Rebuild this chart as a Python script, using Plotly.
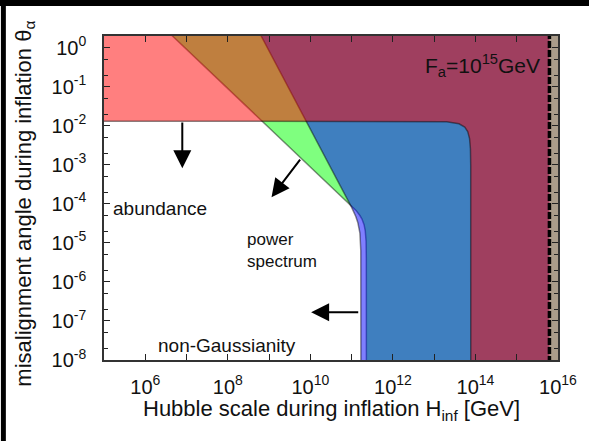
import plotly.graph_objects as go

# ---- data (H_inf in GeV, theta_a) ----
# power-spectrum (isocurvature) bound
power_H = [3.04e6, 1e8, 1e10, 3.16e10, 6.31e10, 1e11, 1.26e11, 1.585e11, 1.78e11, 2.0e11, 2.14e11, 2.24e11, 2.27e11, 2.28e11]
power_theta = [3, 0.0912, 9.12e-4, 2.88e-4, 1.44e-4, 8.95e-5, 6.9e-5, 5.03e-5, 4.07e-5, 2.94e-5, 2.03e-5, 1.09e-5, 4e-6, 1e-9]
# non-Gaussianity bound
ng_H = [5.25e8, 1e9, 1e10, 3.16e10, 6.31e10, 1e11, 1.26e11, 1.41e11, 1.585e11, 1.64e11, 1.667e11, 1.68e11]
ng_theta = [3, 0.832, 8.32e-3, 8.32e-4, 2.09e-4, 8.13e-5, 4.76e-5, 3.35e-5, 1.8e-5, 1.13e-5, 6.3e-6, 1e-9]
# abundance bound
abund_H = [1e4, 2e13, 4e13, 5.5e13, 6.5e13, 7.2e13, 7.55e13, 7.68e13, 7.7e13]
abund_theta = [0.0132, 0.01275, 0.01128, 0.00924, 0.00708, 0.00468, 0.00259, 0.00095, 1e-9]
# symmetry restoration H_inf = 2 pi F_a
restore_H = 6.2e15

x_major = [1e6, 1e8, 1e10, 1e12, 1e14, 1e16]
x_major_text = ["10<sup>6</sup>", "10<sup>8</sup>", "10<sup>10</sup>", "10<sup>12</sup>", "10<sup>14</sup>", "10<sup>16</sup>"]
x_minor = [1e5, 1e7, 1e9, 1e11, 1e13, 1e15]
y_major = [1e-8, 1e-7, 1e-6, 1e-5, 1e-4, 1e-3, 1e-2, 1e-1, 1e0]
y_major_text = ["10<sup>-8</sup>", "10<sup>-7</sup>", "10<sup>-6</sup>", "10<sup>-5</sup>", "10<sup>-4</sup>",
                "10<sup>-3</sup>", "10<sup>-2</sup>", "10<sup>-1</sup>", "10<sup>0</sup>"]
y_minor = [m * 10.0 ** e for e in range(-8, 1) for m in (2, 5)]

FAR_H = 1e17
LOW_T = 1e-9
HIGH_T = 3

FONT = "Liberation Sans, Arial, Helvetica, sans-serif"
EDGE = "rgba(0,0,0,0.45)"

fig = go.Figure()

fig.add_trace(go.Scatter(
    x=power_H + [FAR_H, FAR_H], y=power_theta + [LOW_T, HIGH_T],
    fill="toself", fillcolor="rgba(0,255,0,0.5)", mode="lines",
    line=dict(color=EDGE, width=1.5), hoverinfo="skip", showlegend=False))
fig.add_trace(go.Scatter(
    x=ng_H + [FAR_H, FAR_H], y=ng_theta + [LOW_T, HIGH_T],
    fill="toself", fillcolor="rgba(0,0,255,0.5)", mode="lines",
    line=dict(color=EDGE, width=1.5), hoverinfo="skip", showlegend=False))
fig.add_trace(go.Scatter(
    x=abund_H + [FAR_H, FAR_H, abund_H[0]], y=abund_theta + [LOW_T, HIGH_T, HIGH_T],
    fill="toself", fillcolor="rgba(255,0,0,0.5)", mode="lines",
    line=dict(color=EDGE, width=1.5), hoverinfo="skip", showlegend=False))
fig.add_trace(go.Scatter(
    x=[restore_H, FAR_H, FAR_H, restore_H], y=[LOW_T, LOW_T, HIGH_T, HIGH_T],
    fill="toself", fillcolor="#aa9c8a", mode="lines",
    line=dict(color="rgba(0,0,0,0)", width=0), hoverinfo="skip", showlegend=False))
fig.add_trace(go.Scatter(
    x=[restore_H, restore_H], y=[LOW_T, HIGH_T], mode="lines",
    line=dict(color="black", width=3.5, dash="7px,2px"), hoverinfo="skip", showlegend=False))

axis_common = dict(
    type="log", showgrid=False, zeroline=False, showline=True, linecolor="#333",
    linewidth=1.5, mirror="ticks", ticks="inside", ticklen=6, tickwidth=1.2, tickcolor="#222",
    tickfont=dict(family=FONT, size=20, color="#111"),
)

fig.update_xaxes(range=[5, 16], tickvals=x_major, ticktext=x_major_text,
                 minor=dict(tickvals=x_minor, ticks="inside", ticklen=6, tickwidth=1.2, tickcolor="#222"),
                 ticklabelstandoff=8, **axis_common)
fig.update_yaxes(range=[-8, 0.3], tickvals=y_major, ticktext=y_major_text,
                 minor=dict(tickvals=y_minor, ticks="inside", ticklen=4, tickwidth=1.2, tickcolor="#222"),
                 ticklabelstandoff=12, **axis_common)

annots = []
# arrows (log10 coordinates)
for (tx, ty, sx, sy) in [(6.897, -3.085, 6.897, -1.879),
                         (9.059, -3.828, 9.779, -2.828),
                         (10.019, -6.777, 11.196, -6.777)]:
    annots.append(dict(x=tx, y=ty, ax=sx, ay=sy, xref="x", yref="y", axref="x", ayref="y",
                       text="", showarrow=True, arrowhead=2, arrowsize=1.8, arrowwidth=2,
                       arrowcolor="black"))

annots += [
    dict(text="abundance", x=7 / 458, y=(360 - 209) / 324, xref="paper", yref="paper",
         xanchor="left", yanchor="middle", showarrow=False,
         font=dict(family=FONT, size=19, color="#111")),
    dict(text="power<br>spectrum", x=(246 - 104) / 458, y=(360 - 250) / 324, xref="paper", yref="paper",
         xanchor="left", yanchor="middle", align="left", showarrow=False,
         font=dict(family=FONT, size=17, color="#111")),
    dict(text="non-Gaussianity", x=(156 - 104) / 458, y=(360 - 345) / 324, xref="paper", yref="paper",
         xanchor="left", yanchor="middle", showarrow=False,
         font=dict(family=FONT, size=19, color="#111")),
    dict(text="F<sub>a</sub>=10<sup>15</sup>GeV", x=(546 - 104) / 458, y=(360 - 66) / 324,
         xref="paper", yref="paper", xanchor="right", yanchor="middle", showarrow=False,
         font=dict(family=FONT, size=21, color="#111")),
    dict(text="Hubble scale during inflation H<sub>inf</sub> [GeV]", x=0.5, y=(360 - 410) / 324,
         xref="paper", yref="paper", xanchor="center", yanchor="middle", showarrow=False,
         font=dict(family=FONT, size=22, color="#111")),
    dict(text="misalignment angle during inflation θ<sub>α</sub>", x=(24 - 104) / 458, y=(360 - 204) / 324,
         xref="paper", yref="paper", xanchor="center", yanchor="middle", textangle=-90, showarrow=False,
         font=dict(family=FONT, size=22, color="#111")),
]

shapes = [
    dict(type="rect", xref="paper", yref="paper", x0=-104 / 458, x1=-99 / 458, y0=-81 / 324 - 0.01,
         y1=360 / 324 + 0.01, fillcolor="black", line=dict(width=0), layer="above"),
    dict(type="rect", xref="paper", yref="paper", x0=-104 / 458 - 0.01, x1=485 / 458 + 0.01,
         y0=354 / 324, y1=360 / 324 + 0.01, fillcolor="black", line=dict(width=0), layer="above"),
]

fig.update_layout(
    width=589, height=441, margin=dict(l=104, r=27, t=36, b=81),
    plot_bgcolor="white", paper_bgcolor="white",
    annotations=annots, shapes=shapes, showlegend=False,
)

fig.write_html("out.html")
